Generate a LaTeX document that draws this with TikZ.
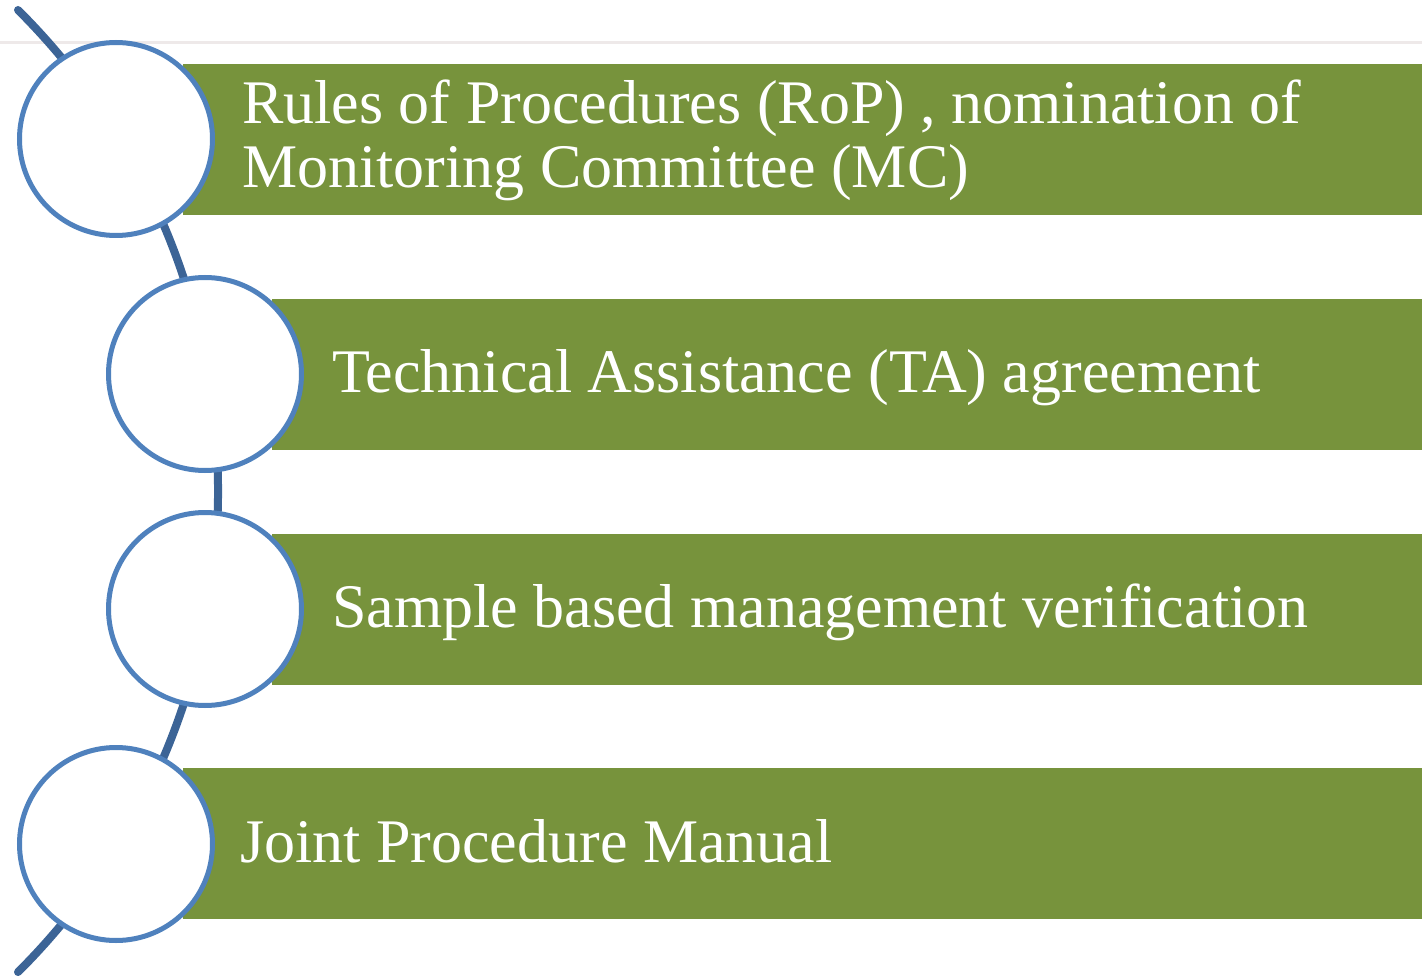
\documentclass[tikz,border=0pt]{standalone}
\usepackage{fontspec}
\setmainfont{Liberation Serif}
\definecolor{barGreen}{HTML}{77933C}
\definecolor{ringBlue}{HTML}{4F81BD}
\definecolor{arcBlue}{HTML}{3C6496}
\definecolor{rule}{HTML}{EEE9E9}
\begin{document}
\begin{tikzpicture}[x=1pt,y=1pt,
  bar/.style={fill=barGreen,draw=none},
  ring/.style={circle,draw=ringBlue,line width=5pt,fill=white,minimum size=193pt,inner sep=0pt},
  label/.style={anchor=base west,text=white,inner sep=0pt,font=\fontsize{62}{64}\selectfont,align=left}]
\useasboundingbox (0,0) rectangle (1422,-976);
\draw[rule,line width=3pt] (0,-43) -- (1422,-43);
\draw[arcBlue,line width=8pt,line cap=round] (18,-10) arc[start angle=45.16,end angle=-45.16,radius=678.4];
\fill[bar] (183,-64) rectangle (1422,-215);
\fill[bar] (272,-299) rectangle (1422,-450);
\fill[bar] (272,-534) rectangle (1422,-685);
\fill[bar] (183,-768) rectangle (1422,-919);
\node[ring] (c1) at (116,-139) {};
\node[ring] (c2) at (205,-374) {};
\node[ring] (c3) at (205,-609) {};
\node[ring] (c4) at (116,-844) {};
\node[label] (t1a) at (242,-124) {Rules of Procedures (RoP) , nomination of};
\node[label] (t1b) at (242,-188) {Monitoring Committee (MC)};
\node[label] (t2) at (332,-392) {Technical Assistance (TA) agreement};
\node[label] (t3) at (332,-627) {Sample based management verification};
\node[label] (t4) at (240,-862) {Joint Procedure Manual};
\end{tikzpicture}
\end{document}
